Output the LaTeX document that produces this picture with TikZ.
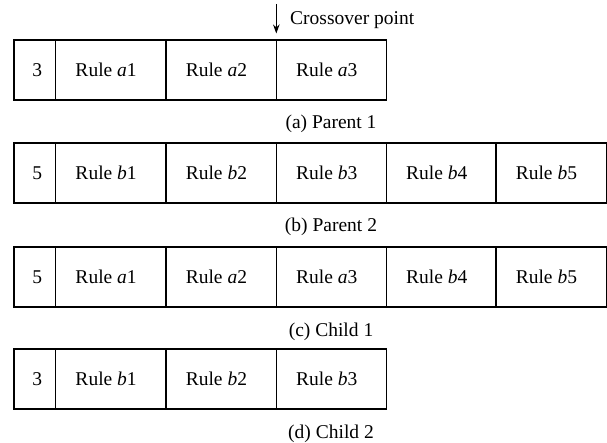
\documentclass[tikz,border=0pt]{standalone}
\usepackage{fontspec}
\setmainfont{Liberation Serif}
\usetikzlibrary{arrows.meta}
\newcommand{\rl}[2]{Rule \textit{#1}#2\hspace*{9.5pt}}
\newcommand{\nm}[1]{\hspace*{5pt}#1}
\begin{document}
\begin{tikzpicture}[x=1pt,y=-1pt,
  cell/.style={draw,line width=1.5pt,rectangle,inner sep=0pt,outer sep=0pt,minimum height=60pt,font=\fontsize{19.5}{22}\selectfont},
  numcell/.style={cell,minimum width=41.7pt},
  rulecell/.style={cell,minimum width=110.3pt},
  caption/.style={anchor=base,inner sep=0pt,font=\fontsize{19.5}{22}\selectfont},
  marker/.style={line width=1.5pt,-{Stealth[length=9pt,width=6.5pt]}}]
\useasboundingbox (0,0) rectangle (607,443);
% (a) Parent 1
\node[numcell]  (a0) at (34.85,70) {\nm{3}};
\node[rulecell] (a1) at (110.85,70) {\rl{a}{1}};
\node[rulecell] (a2) at (221.15,70) {\rl{a}{2}};
\node[rulecell] (a3) at (331.45,70) {\rl{a}{3}};
\node[caption]  (ca) at (331,129) {(a) Parent 1};
% crossover marker
\coordinate (ctop) at (276.3,4);
\coordinate (ctip) at (276.3,33.5);
\draw[marker] (ctop) -- (ctip);
\node[anchor=base west,inner sep=0pt,font=\fontsize{19.5}{22}\selectfont] (cp) at (290,24.5) {Crossover point};
% (b) Parent 2
\node[numcell]  (b0) at (34.85,173) {\nm{5}};
\node[rulecell] (b1) at (110.85,173) {\rl{b}{1}};
\node[rulecell] (b2) at (221.15,173) {\rl{b}{2}};
\node[rulecell] (b3) at (331.45,173) {\rl{b}{3}};
\node[rulecell] (b4) at (441.45,173) {\rl{b}{4}};
\node[rulecell] (b5) at (551.15,173) {\rl{b}{5}};
\node[caption]  (cb) at (331,232) {(b) Parent 2};
% (c) Child 1
\node[numcell]  (c0) at (34.85,277) {\nm{5}};
\node[rulecell] (c1) at (110.85,277) {\rl{a}{1}};
\node[rulecell] (c2) at (221.15,277) {\rl{a}{2}};
\node[rulecell] (c3) at (331.45,277) {\rl{a}{3}};
\node[rulecell] (c4) at (441.45,277) {\rl{b}{4}};
\node[rulecell] (c5) at (551.15,277) {\rl{b}{5}};
\node[caption]  (cc) at (331,336) {(c) Child 1};
% (d) Child 2
\node[numcell]  (d0) at (34.85,379) {\nm{3}};
\node[rulecell] (d1) at (110.85,379) {\rl{b}{1}};
\node[rulecell] (d2) at (221.15,379) {\rl{b}{2}};
\node[rulecell] (d3) at (331.45,379) {\rl{b}{3}};
\node[caption]  (cd) at (331,438) {(d) Child 2};
\end{tikzpicture}
\end{document}
